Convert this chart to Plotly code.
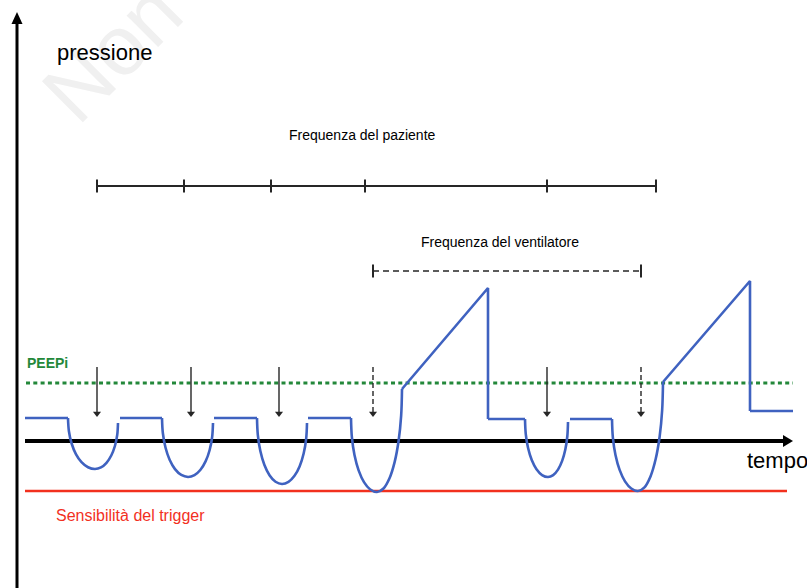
import plotly.graph_objects as go

# ---------------- data (time in arbitrary units, pressure relative to time axis) ----------------
# Patient inspiratory efforts (dips)
dip_start = [68, 162, 257, 351, 525, 612]
dip_bottom_t = [95, 188, 282, 377, 548, 638]
dip_end = [118, 213, 307, 402, 568, 663]
dip_left_p = [23, 23, 23, 23, 22, 22]
dip_bottom_p = [-28, -36, -43, -51, -36, -50]
dip_right_p = [18, 18, 18, 52, 19, 59]

# Flat expiratory plateaus
flat_start = [25, 120, 214, 308, 488, 570, 750]
flat_end = [68, 162, 257, 351, 525, 612, 793]
flat_p = [23, 23, 23, 23, 22, 22, 30]

# Ventilator-delivered breaths (ramps)
ramp_start_t = [402, 663]
ramp_peak_t = [488, 750]
ramp_start_p = [52, 59]
ramp_peak_p = [153, 160]
ramp_after_p = [22, 30]

# Effort markers
arrow_solid_t = [97, 191, 279, 547]
arrow_dashed_t = [373, 641]
arrow_top_p = 74
arrow_tip_p = 24

# Frequency bars
patient_ticks = [97, 184, 271, 365, 547, 656]
patient_bar_p = 255
vent_ticks = [373, 641]
vent_bar_p = 170

peepi_p = 58
trigger_p = -50

# ---------------- style constants ----------------
BLUE = "#3f62c0"
GREEN = "#23883a"
RED = "#f2301e"
DARK = "#262626"
FONT = "Liberation Sans, Arial, sans-serif"
# quarter-ellipse profile used to shape each dip
PROF_X = [0, 0.034, 0.134, 0.293, 0.5, 0.741, 1.0]
PROF_Y = [0, 0.259, 0.5, 0.707, 0.866, 0.966, 1.0]

X_MIN, X_MAX = 0, 807
P_MIN, P_MAX = -147, 441
AXIS_T0, AXIS_T1 = 25, 793
VAXIS_T = 17

fig = go.Figure()

# reference lines
fig.add_trace(go.Scatter(x=[26, 793], y=[peepi_p, peepi_p], mode="lines",
                         line=dict(color=GREEN, width=3.2, dash="4px,3.3px"), hoverinfo="skip"))
fig.add_trace(go.Scatter(x=[25, 787], y=[trigger_p, trigger_p], mode="lines",
                         line=dict(color=RED, width=2.5), hoverinfo="skip"))

# time axis (black arrow)
fig.add_trace(go.Scatter(x=[AXIS_T0, AXIS_T1 - 9], y=[0, 0], mode="lines",
                         line=dict(color="black", width=4), hoverinfo="skip"))
# pressure axis
fig.add_trace(go.Scatter(x=[VAXIS_T, VAXIS_T], y=[P_MIN, P_MAX - 22], mode="lines",
                         line=dict(color="black", width=3), hoverinfo="skip"))

# waveform: straight parts
lx, ly = [], []
for s, e, p in zip(flat_start, flat_end, flat_p):
    lx += [s, e, None]
    ly += [p, p, None]
for t0, t1, p0, p1, pa in zip(ramp_start_t, ramp_peak_t, ramp_start_p, ramp_peak_p, ramp_after_p):
    lx += [t0, t1, t1, None]
    ly += [p0, p1, pa, None]
fig.add_trace(go.Scatter(x=lx, y=ly, mode="lines", line=dict(color=BLUE, width=2.6),
                         hoverinfo="skip", connectgaps=False))

# waveform: dips
dx, dy = [], []
for s, b, e, pl, pb, pr in zip(dip_start, dip_bottom_t, dip_end, dip_left_p, dip_bottom_p, dip_right_p):
    for fx, fy in zip(PROF_X, PROF_Y):
        dx.append(s + (b - s) * fx)
        dy.append(pl - (pl - pb) * fy)
    for fx, fy in list(zip(PROF_X, PROF_Y))[::-1][1:]:
        dx.append(e - (e - b) * fx)
        dy.append(pr - (pr - pb) * fy)
    dx.append(None)
    dy.append(None)
fig.add_trace(go.Scatter(x=dx, y=dy, mode="lines", line=dict(color=BLUE, width=2.6, shape="spline"),
                         hoverinfo="skip", connectgaps=False))

# effort arrows
sx, sy = [], []
for t in arrow_solid_t:
    sx += [t, t, None]
    sy += [arrow_top_p, arrow_tip_p + 5, None]
fig.add_trace(go.Scatter(x=sx, y=sy, mode="lines", line=dict(color=DARK, width=1.4), hoverinfo="skip"))
qx, qy = [], []
for t in arrow_dashed_t:
    qx += [t, t, None]
    qy += [arrow_top_p, arrow_tip_p + 5, None]
fig.add_trace(go.Scatter(x=qx, y=qy, mode="lines", line=dict(color=DARK, width=1.4, dash="5px,3px"),
                         hoverinfo="skip"))
heads = arrow_solid_t + arrow_dashed_t
fig.add_trace(go.Scatter(x=heads, y=[arrow_tip_p + 3.5] * len(heads), mode="markers",
                         marker=dict(symbol="triangle-down", size=7, color=DARK), hoverinfo="skip"))

# patient frequency bar
fig.add_trace(go.Scatter(x=[patient_ticks[0], patient_ticks[-1]], y=[patient_bar_p] * 2, mode="lines",
                         line=dict(color=DARK, width=2), hoverinfo="skip"))
px_, py_ = [], []
for t in patient_ticks:
    px_ += [t, t, None]
    py_ += [patient_bar_p - 6.5, patient_bar_p + 6.5, None]
fig.add_trace(go.Scatter(x=px_, y=py_, mode="lines", line=dict(color=DARK, width=2), hoverinfo="skip"))

# ventilator frequency bar
fig.add_trace(go.Scatter(x=[vent_ticks[0], vent_ticks[-1]], y=[vent_bar_p] * 2, mode="lines",
                         line=dict(color=DARK, width=1.6, dash="6px,4px"), hoverinfo="skip"))
vx, vy = [], []
for t in vent_ticks:
    vx += [t, t, None]
    vy += [vent_bar_p - 6.5, vent_bar_p + 6.5, None]
fig.add_trace(go.Scatter(x=vx, y=vy, mode="lines", line=dict(color=DARK, width=2), hoverinfo="skip"))

# arrowheads for the two axes
shapes = [
    dict(type="path", xref="x", yref="y",
         path=f"M {AXIS_T1 - 10},{-6} L {AXIS_T1},{0} L {AXIS_T1 - 10},{6} Z",
         fillcolor="black", line=dict(color="black", width=0)),
    dict(type="path", xref="x", yref="y",
         path=f"M {VAXIS_T - 5.5},{P_MAX - 24} L {VAXIS_T},{P_MAX - 12} L {VAXIS_T + 5.5},{P_MAX - 24} Z",
         fillcolor="black", line=dict(color="black", width=0)),
]

annotations = [
    dict(x=112, y=P_MAX - 52, text="Non", showarrow=False, textangle=-45,
         font=dict(family=FONT, size=84, color="#f0f0f0")),
    dict(x=55, y=P_MAX - 52, text="pressione", xanchor="left", yanchor="middle", showarrow=False,
         font=dict(family=FONT, size=22, color="black")),
    dict(x=745, y=-19, text="tempo", xanchor="left", yanchor="middle", showarrow=False,
         font=dict(family=FONT, size=22, color="black")),
    dict(x=362, y=patient_bar_p + 51, text="Frequenza del paziente", xanchor="center", yanchor="middle",
         showarrow=False, font=dict(family=FONT, size=14, color="black")),
    dict(x=500, y=vent_bar_p + 29, text="Frequenza del ventilatore", xanchor="center", yanchor="middle",
         showarrow=False, font=dict(family=FONT, size=14, color="black")),
    dict(x=25, y=peepi_p + 20, text="<b>PEEPi</b>", xanchor="left", yanchor="middle", showarrow=False,
         font=dict(family=FONT, size=14, color=GREEN)),
    dict(x=54, y=trigger_p - 24, text="Sensibilità del trigger", xanchor="left", yanchor="middle",
         showarrow=False, font=dict(family=FONT, size=16, color=RED)),
]

fig.update_layout(
    width=807, height=588,
    margin=dict(l=0, r=0, t=0, b=0),
    paper_bgcolor="white", plot_bgcolor="white",
    showlegend=False,
    xaxis=dict(range=[X_MIN, X_MAX], visible=False, fixedrange=True),
    yaxis=dict(range=[P_MIN, P_MAX], visible=False, fixedrange=True),
    shapes=shapes,
    annotations=annotations,
)

fig.write_html("out.html", config={"displayModeBar": False},
               post_script="document.body.style.margin='0';document.body.style.overflow='hidden';")
